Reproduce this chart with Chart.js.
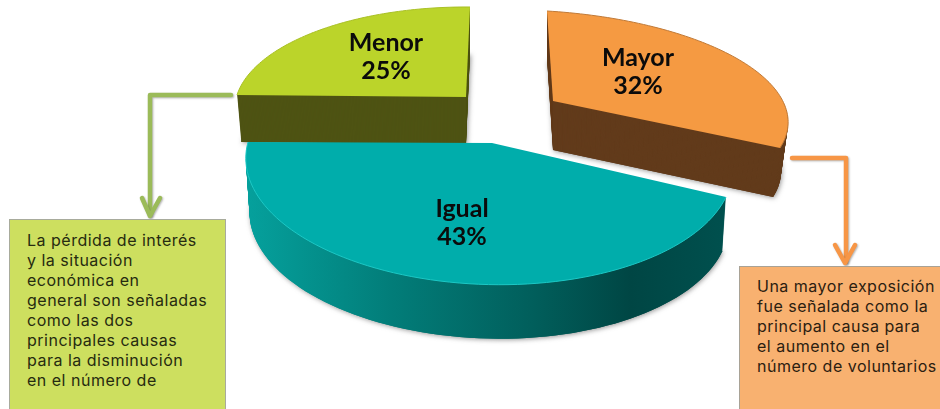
<!DOCTYPE html>
<html>
<head>
<meta charset="utf-8">
<script src="https://cdn.jsdelivr.net/npm/chart.js@4"></script>
<style>
html,body{margin:0;padding:0;background:#fff;overflow:hidden}
#wrap{position:relative;width:940px;height:409px;overflow:hidden}
canvas{position:absolute;left:0;top:0}
.box{position:absolute;box-sizing:border-box;font-family:Inter,sans-serif;font-size:16px;line-height:20px;color:#262b10;white-space:pre;letter-spacing:.5px}
#boxMenor{left:9px;top:219px;width:217px;height:200px;background:#cddf5f;border:1px solid #a8ab9c;padding:10px 0 0 17px}
#boxMayor{left:739px;top:266px;width:210px;height:150px;background:#f8b170;border:1px solid #a8a296;padding:9px 0 0 17px;color:#2b2010}
</style>
</head>
<body>
<div id="wrap">
<canvas id="chart" width="940" height="409"></canvas>
<div class="box" id="boxMenor"></div>
<div class="box" id="boxMayor"></div>
</div>
<script>
const categories = ["Mayor","Igual","Menor"];
const values = [32,43,25];
const topColors = ["#f59a42","#00adab","#bbd42a"];
const noteMenor = ["La pérdida de interés","y la situación","económica en","general son señaladas","como las dos","principales causas","para la disminución","en el número de"];
const noteMayor = ["Una mayor exposición","fue señalada como la","principal causa para","el aumento en el","número de voluntarios"];

document.getElementById("boxMenor").textContent = noteMenor.join("\n");
document.getElementById("boxMayor").textContent = noteMayor.join("\n");

// where each exploded slice lands on screen: apex, arc start, arc end, arc middle
const sliceView = {
  Mayor:{apex:[553,101],start:[547,11],end:[780,148],mid:[736,58],depth:49,narrow:0.97,wall:"#623b1b",rim:"#c07a38",label:[638,58]},
  Igual:{apex:[492,143],start:[726,197],end:[248,142],mid:[440,281],depth:54,narrow:0.985,rim:"#1cc8c5",label:[462,209]},
  Menor:{apex:[466,97],start:[237,95],end:[470,7],mid:[320,30],depth:47,narrow:0.982,wall:"#4e5313",rim:"#a9c025",label:[386,43]}
};
const drawOrder = ["Menor","Mayor","Igual"];

// ---------- PROJECTION ----------
function solve(A,b){
  const n=b.length;
  for(let i=0;i<n;i++){
    let p=i;
    for(let r=i+1;r<n;r++) if(Math.abs(A[r][i])>Math.abs(A[p][i])) p=r;
    [A[i],A[p]]=[A[p],A[i]];
    [b[i],b[p]]=[b[p],b[i]];
    for(let r=i+1;r<n;r++){
      const f=A[r][i]/A[i][i];
      for(let c=i;c<n;c++) A[r][c]-=f*A[i][c];
      b[r]-=f*b[i];
    }
  }
  const x=new Array(n).fill(0);
  for(let i=n-1;i>=0;i--){
    let s=b[i];
    for(let c=i+1;c<n;c++) s-=A[i][c]*x[c];
    x[i]=s/A[i][i];
  }
  return x;
}

function homography(src,dst){
  const A=[],b=[];
  src.forEach((s,i)=>{
    const [x,y]=s,[u,v]=dst[i];
    A.push([x,y,1,0,0,0,-u*x,-u*y]);b.push(u);
    A.push([0,0,0,x,y,1,-v*x,-v*y]);b.push(v);
  });
  const h=solve(A,b);
  return (x,y)=>{
    const w=h[6]*x+h[7]*y+1;
    return [(h[0]*x+h[1]*y+h[2])/w,(h[3]*x+h[4]*y+h[5])/w];
  };
}

function slicePoints(el,view){
  const a0=el.startAngle,a1=el.endAngle,am=(a0+a1)/2;
  const map=homography(
    [[0,0],[Math.cos(a0),Math.sin(a0)],[Math.cos(a1),Math.sin(a1)],[Math.cos(am),Math.sin(am)]],
    [view.apex,view.start,view.end,view.mid]
  );
  const pts=[];
  for(let i=0;i<=80;i++){
    const a=a0+(a1-a0)*i/80;
    pts.push(map(Math.cos(a),Math.sin(a)));
  }
  return pts;
}

// dy goes down the wall, which also pulls in a little towards the apex
function tracePath(ctx,view,pts,dy){
  const ax=view.apex[0];
  const s=1-(1-view.narrow)*dy/view.depth;
  ctx.beginPath();
  ctx.moveTo(ax,view.apex[1]+dy);
  pts.forEach(p=>ctx.lineTo(ax+(p[0]-ax)*s,p[1]+dy));
  ctx.closePath();
}

function igualWall(ctx){
  const g=ctx.createLinearGradient(248,0,726,0);
  g.addColorStop(0,"#05a09c");
  g.addColorStop(0.3,"#027d79");
  g.addColorStop(0.6,"#015e5b");
  g.addColorStop(0.8,"#004644");
  g.addColorStop(1,"#00504e");
  return g;
}

// ---------- SLICES ----------
const slices3d = {
  id:"slices3d",
  beforeDatasetDraw(chart){
    const ctx=chart.ctx;
    const meta=chart.getDatasetMeta(0);
    drawOrder.forEach(name=>{
      const i=categories.indexOf(name);
      const el=meta.data[i];
      const view=sliceView[name];
      const pts=slicePoints(el,view);

      ctx.save();
      ctx.shadowColor="rgba(60,60,60,.55)";
      ctx.shadowBlur=5;
      ctx.shadowOffsetX=1;
      ctx.shadowOffsetY=1;
      const wall=view.wall||igualWall(ctx);
      ctx.fillStyle=wall;
      tracePath(ctx,view,pts,view.depth);
      ctx.fill();
      ctx.restore();

      ctx.fillStyle=wall;
      for(let dy=view.depth;dy>0;dy--){
        tracePath(ctx,view,pts,dy);
        ctx.fill();
      }

      ctx.fillStyle=el.options.backgroundColor;
      tracePath(ctx,view,pts,0);
      ctx.fill();

      ctx.strokeStyle=view.rim;
      ctx.lineWidth=1;
      ctx.beginPath();
      pts.forEach((p,k)=>k?ctx.lineTo(p[0],p[1]):ctx.moveTo(p[0],p[1]));
      ctx.stroke();
    });
    return false;
  },
  afterDraw(chart){
    const ctx=chart.ctx;
    ctx.save();
    ctx.fillStyle="#0b0b0b";
    ctx.textAlign="center";
    ctx.textBaseline="middle";
    ctx.font="bold 25px Lato, sans-serif";
    categories.forEach((name,i)=>{
      const [x,y]=sliceView[name].label;
      ctx.fillText(name,x,y);
      ctx.fillText(values[i]+"%",x,y+28);
    });
    ctx.restore();
    arrow(ctx,"#9bbb59",[[231,95],[150,95],[150,215]],[[142,198],[150,216],[160,198]]);
    arrow(ctx,"#f79646",[[792,158],[846,158],[846,262]],[[835,245],[845,263],[855,245]]);
  }
};

function arrow(ctx,color,line,head){
  ctx.save();
  ctx.shadowColor="rgba(90,90,90,.45)";
  ctx.shadowBlur=2;
  ctx.shadowOffsetX=1;
  ctx.shadowOffsetY=1;
  ctx.strokeStyle=color;
  ctx.lineWidth=4.5;
  ctx.lineJoin="round";
  ctx.lineCap="round";
  [line,head].forEach(seg=>{
    ctx.beginPath();
    seg.forEach((p,k)=>k?ctx.lineTo(p[0],p[1]):ctx.moveTo(p[0],p[1]));
    ctx.stroke();
  });
  ctx.restore();
}

const chart = new Chart(document.getElementById("chart"),{
  type:"pie",
  data:{
    labels:categories,
    datasets:[{data:values,backgroundColor:topColors,borderWidth:0}]
  },
  options:{
    responsive:false,
    animation:false,
    events:[],
    plugins:{legend:{display:false},tooltip:{enabled:false}}
  },
  plugins:[slices3d]
});
</script>
</body>
</html>
